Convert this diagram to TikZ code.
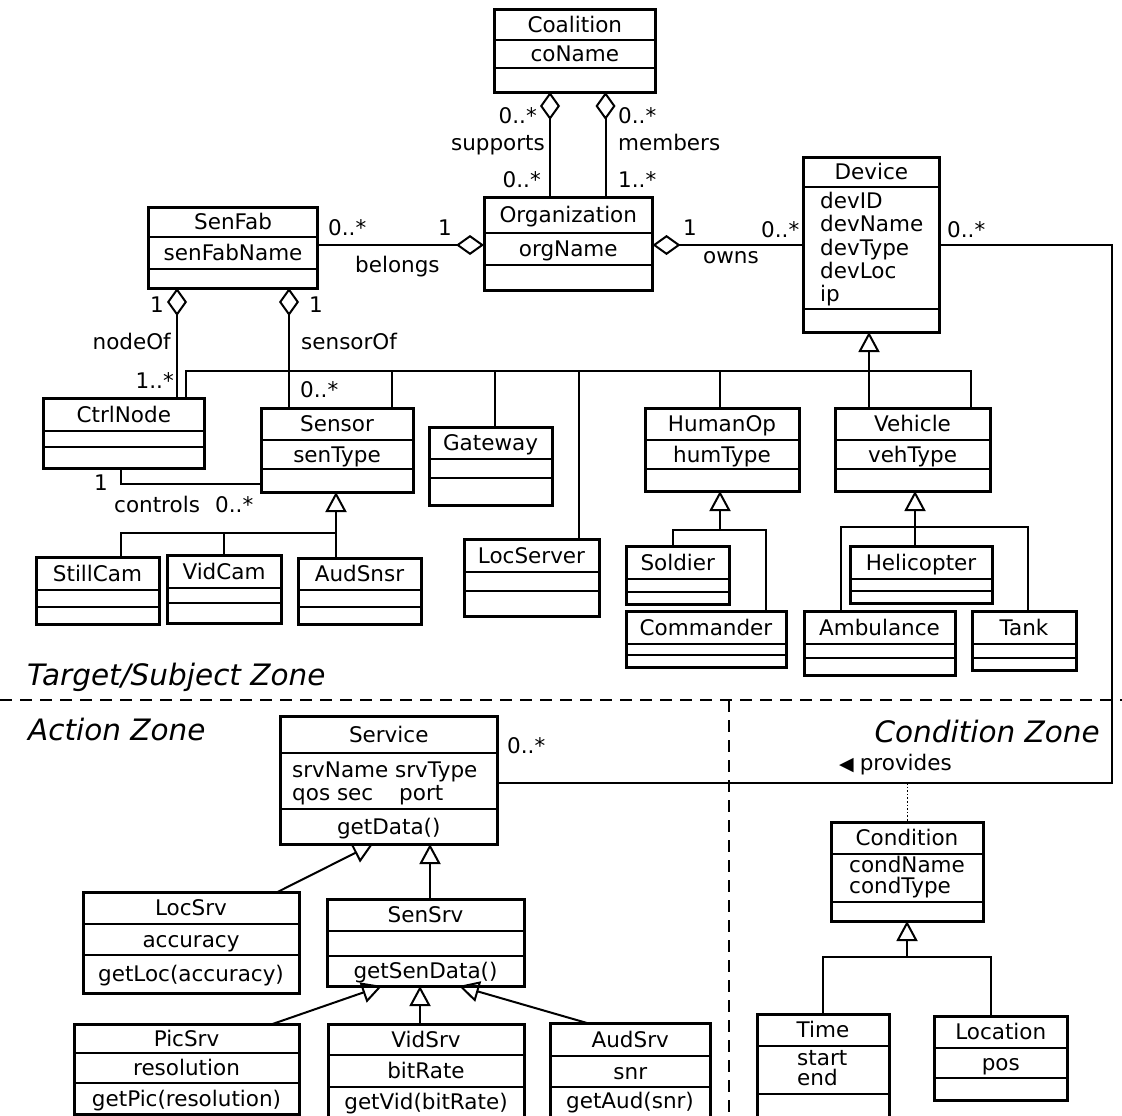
\documentclass[tikz,border=0pt]{standalone}
\usepackage{fontspec}
\setmainfont{DejaVu Sans}[ItalicFont={DejaVu Sans Oblique},BoldFont={DejaVu Sans Bold}]
\usetikzlibrary{arrows.meta}

% UML class box: name, x1, y1, x2, y2, first divider, second divider, title, centred attribute
\newcommand\umlclass[9]{%
  \node[classbox, minimum width={(#4)-(#2)}, minimum height={(#5)-(#3)}]
    (#1) at ({((#2)+(#4))/2},{((#3)+(#5))/2}) {};
  \draw[divider] (#2,#6) -- (#4,#6) (#2,#7) -- (#4,#7);
  \node[lbl, anchor=base] (#1-name) at ({((#2)+(#4))/2},{((#3)+(#6))/2+7.5}) {#8};
  \node[lbl, anchor=base] (#1-attr) at ({((#2)+(#4))/2},{((#6)+(#7))/2+7.5}) {#9};
}

\begin{document}
\begin{tikzpicture}[x=1pt,y=-1pt,
  classbox/.style={draw, line width=3pt, rectangle, inner sep=0pt, outer sep=0pt},
  divider/.style={line width=1.2pt},
  lbl/.style={inner sep=0pt, font=\fontsize{21.5}{24}\selectfont},
  zone/.style={inner sep=0pt, font=\fontsize{29.5}{32}\selectfont\itshape},
  conn/.style={line width=2pt},
  agg/.style={conn, -{Diamond[open,length=28pt,width=20pt]}},
  gen/.style={conn, -{Triangle[open,length=20pt,width=21pt]}},
  zoneline/.style={line width=2.5pt, dash pattern=on 12pt off 8pt},
]
\useasboundingbox[fill=white] (0,0) rectangle (1122,1116);

% ---------- zone separators ----------
\draw[zoneline] (0,700) -- (1122,700);
\draw[zoneline] (729,700) -- (729,1120);
\node[zone, anchor=base west] (zsubj) at (27,685) {Target/Subject Zone};
\node[zone, anchor=base west] (zact) at (28,740) {Action Zone};
\node[zone, anchor=base east] (zcond) at (1100,742) {Condition Zone};

% ---------- classes ----------
\umlclass{coalition}{494.6}{10}{655}{92}{40}{68}{Coalition}{coName}
\umlclass{org}{484}{197}{652.5}{290}{233}{265}{Organization}{orgName}
\umlclass{senfab}{148.6}{207}{317.5}{288}{237}{269}{SenFab}{senFabName}
\umlclass{device}{803.7}{157}{939}{332}{187}{309}{Device}{}
\umlclass{ctrl}{43.6}{398}{204}{468}{431}{447}{CtrlNode}{}
\umlclass{sensor}{261}{408}{413}{492}{440}{469}{Sensor}{senType}
\umlclass{gateway}{429}{427}{552}{505}{459}{478}{Gateway}{}
\umlclass{locserver}{464}{539}{599}{616}{572}{591}{LocServer}{}
\umlclass{stillcam}{36}{557}{159}{624}{590}{607}{StillCam}{}
\umlclass{vidcam}{167}{555}{281}{623}{588}{603}{VidCam}{}
\umlclass{audsnsr}{298}{558}{421}{624}{590}{607}{AudSnsr}{}
\umlclass{humanop}{645}{408}{799}{491}{440}{469}{HumanOp}{humType}
\umlclass{vehicle}{835}{408}{990}{491}{440}{469}{Vehicle}{vehType}
\umlclass{soldier}{626}{546}{729.5}{604}{579}{592}{Soldier}{}
\umlclass{commander}{626}{611}{786}{667}{644}{655}{Commander}{}
\umlclass{heli}{850}{546}{992}{603}{579}{591}{Helicopter}{}
\umlclass{amb}{804}{611}{955}{675}{644}{658}{Ambulance}{}
\umlclass{tank}{972}{611}{1076}{670}{644}{658}{Tank}{}
\umlclass{service}{280}{716}{497.5}{844}{753}{809}{Service}{}
\umlclass{locsrv}{83}{892}{299}{993}{924}{955}{LocSrv}{accuracy}
\umlclass{sensrv}{327}{899}{524}{986}{931}{956}{SenSrv}{}
\umlclass{picsrv}{74}{1024}{299}{1114}{1053}{1083}{PicSrv}{resolution}
\umlclass{vidsrv}{328}{1024}{524}{1120}{1055}{1087}{VidSrv}{bitRate}
\umlclass{audsrv}{550}{1023}{710.5}{1120}{1056}{1087}{AudSrv}{snr}
\umlclass{cond}{831}{822}{983}{921}{854}{902}{Condition}{}
\umlclass{time}{757}{1014}{889}{1120}{1046}{1094}{Time}{}
\umlclass{loc}{934.5}{1016}{1067}{1100}{1048}{1078}{Location}{pos}

% left-aligned attribute lists
\node[lbl, anchor=base west] (dev-a1) at (820,208) {devID};
\node[lbl, anchor=base west] (dev-a2) at (820,231.5) {devName};
\node[lbl, anchor=base west] (dev-a3) at (820,255) {devType};
\node[lbl, anchor=base west] (dev-a4) at (820,278.5) {devLoc};
\node[lbl, anchor=base west] (dev-a5) at (820,301) {ip};
\node[lbl, anchor=base west] (srv-a1) at (292,777) {srvName srvType};
\node[lbl, anchor=base west] (srv-a2) at (292,800) {qos sec};
\node[lbl, anchor=base west] (srv-a3) at (399,800) {port};
\node[lbl, anchor=base west] (cond-a1) at (849,872) {condName};
\node[lbl, anchor=base west] (cond-a2) at (849,893) {condType};
\node[lbl, anchor=base west] (time-a1) at (797,1065) {start};
\node[lbl, anchor=base west] (time-a2) at (797,1085) {end};

% operations
\node[lbl, anchor=base] (srv-op) at (388.75,834) {getData()};
\node[lbl, anchor=base] (locsrv-op) at (191,981.5) {getLoc(accuracy)};
\node[lbl, anchor=base] (sensrv-op) at (425.5,978) {getSenData()};
\node[lbl, anchor=base] (picsrv-op) at (186.5,1106.5) {getPic(resolution)};
\node[lbl, anchor=base] (vidsrv-op) at (426,1109.5) {getVid(bitRate)};
\node[lbl, anchor=base] (audsrv-op) at (630,1108) {getAud(snr)};

% ---------- aggregations ----------
\draw[agg] (550,0 |- org.north) -- (550,0 |- coalition.south);
\draw[agg] (605.5,0 |- org.north) -- (605.5,0 |- coalition.south);
\draw[agg] (senfab.east |- 0,245) -- (org.west |- 0,245);
\draw[agg] (device.west |- 0,245) -- (org.east |- 0,245);
\draw[agg] (177,0 |- ctrl.north) -- (177,0 |- senfab.south);
\draw[agg] (289,0 |- sensor.north) -- (289,0 |- senfab.south);

% ---------- associations ----------
\coordinate (provbend) at (1112,245);
\coordinate (provjoin) at (907.5,783);
\draw[conn] (device.east |- 0,245) -- (provbend) |- (service.east |- 0,783);
\draw[line width=1.6pt, dotted] (provjoin) -- (907.5,0 |- cond.north);
\draw[conn] (121,0 |- ctrl.south) |- (sensor.west |- 0,484);

% ---------- generalisations ----------
% Device hierarchy
\draw[gen] (869,0 |- vehicle.north) -- (869,0 |- device.south);
\draw[conn] (186,0 |- ctrl.north) |- (971,371) -- (971,0 |- vehicle.north);
\draw[conn] (392,371) -- (392,0 |- sensor.north);
\draw[conn] (495,371) -- (495,0 |- gateway.north);
\draw[conn] (579,371) -- (579,0 |- locserver.north);
\draw[conn] (720,371) -- (720,0 |- humanop.north);
% Sensor hierarchy
\draw[gen] (336,0 |- audsnsr.north) -- (336,0 |- sensor.south);
\draw[conn] (121,0 |- stillcam.north) |- (336,533);
\draw[conn] (224,0 |- vidcam.north) -- (224,533);
% HumanOp hierarchy
\draw[gen] (720,530) -- (720,0 |- humanop.south);
\draw[conn] (673,0 |- soldier.north) |- (766,530) -- (766,0 |- commander.north);
% Vehicle hierarchy
\draw[gen] (915,0 |- heli.north) -- (915,0 |- vehicle.south);
\draw[conn] (841,0 |- amb.north) |- (1028,527) -- (1028,0 |- tank.north);
% Service hierarchy
\draw[gen] (277.5,0 |- locsrv.north) -- (373,0 |- service.south);
\draw[gen] (430,0 |- sensrv.north) -- (430,0 |- service.south);
\draw[gen] (272.5,0 |- picsrv.north) -- (382,0 |- sensrv.south);
\draw[gen] (420,0 |- vidsrv.north) -- (420,0 |- sensrv.south);
\draw[gen] (587,0 |- audsrv.north) -- (459,0 |- sensrv.south);
% Condition hierarchy
\draw[gen] (907,957) -- (907,0 |- cond.south);
\draw[conn] (823,0 |- time.north) |- (991,957) -- (991,0 |- loc.north);

% ---------- multiplicities and role names ----------
\node[lbl, anchor=base east] (m1) at (537,123) {0..*};
\node[lbl, anchor=base east] (r1) at (545,150) {supports};
\node[lbl, anchor=base east] (m2) at (541,187) {0..*};
\node[lbl, anchor=base west] (m3) at (618,123) {0..*};
\node[lbl, anchor=base west] (r2) at (618,150) {members};
\node[lbl, anchor=base west] (m4) at (618,187) {1..*};
\node[lbl, anchor=base west] (m5) at (328,235) {0..*};
\node[lbl, anchor=base] (m6) at (445,235) {1};
\node[lbl, anchor=base west] (r3) at (355,272) {belongs};
\node[lbl, anchor=base] (m7) at (690,235) {1};
\node[lbl, anchor=base east] (m8) at (799.5,237) {0..*};
\node[lbl, anchor=base west] (r4) at (703,263) {owns};
\node[lbl, anchor=base west] (m9) at (947,237) {0..*};
\node[lbl, anchor=base] (m10) at (157,312) {1};
\node[lbl, anchor=base] (m11) at (316,312) {1};
\node[lbl, anchor=base east] (r5) at (171,349) {nodeOf};
\node[lbl, anchor=base west] (r6) at (301,349) {sensorOf};
\node[lbl, anchor=base east] (m12) at (174,388) {1..*};
\node[lbl, anchor=base west] (m13) at (300,397) {0..*};
\node[lbl, anchor=base] (m14) at (101,490) {1};
\node[lbl, anchor=base west] (r7) at (114,512) {controls};
\node[lbl, anchor=base west] (m15) at (215,512) {0..*};
\node[lbl, anchor=base west] (m16) at (507,753) {0..*};
\node[lbl, anchor=base west] (r8) at (839,770) {{\fontsize{19}{19}\selectfont ◀}\hspace{6pt}provides};
\end{tikzpicture}
\end{document}
